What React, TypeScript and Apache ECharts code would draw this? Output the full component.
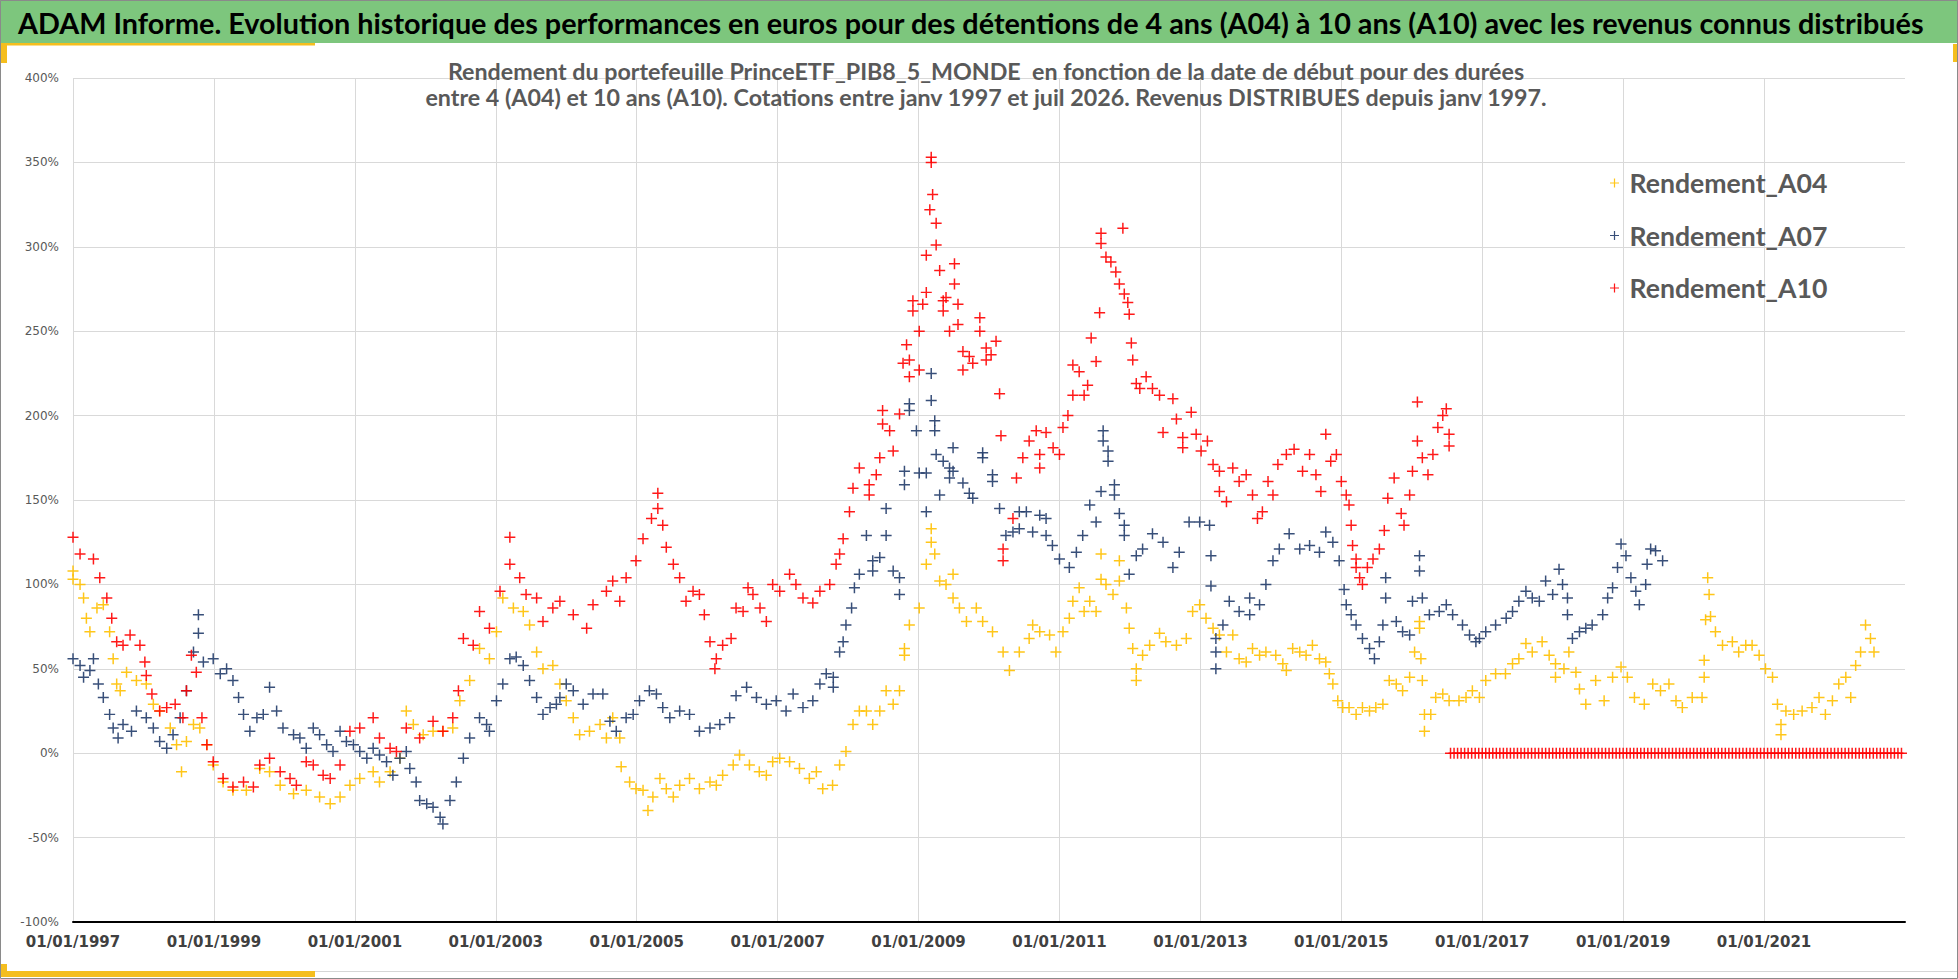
import React, { useEffect, useRef } from 'react';
import * as echarts from 'echarts';

// Texts
const HEADER =
  'ADAM Informe. Evolution historique des performances en euros pour des détentions de 4 ans (A04) à 10 ans (A10) avec les revenus connus distribués';
const TITLE_LINES = [
  'Rendement du portefeuille PrinceETF_PIB8_5_MONDE  en fonction de la date de début pour des durées',
  'entre 4 (A04) et 10 ans (A10). Cotations entre janv 1997 et juil 2026. Revenus DISTRIBUES depuis janv 1997.',
];
const SERIES_NAMES = ['Rendement_A04', 'Rendement_A07', 'Rendement_A10'];
const SERIES_COLORS = ['#FFC000', '#223C6A', '#FF0000'];

// x axis : start date in decimal years, labels 01/01/YYYY every 2 years
const X_START = 1997;
const X_END = 2023;
const X_STEP = 2;
const Y_MIN = -100;
const Y_MAX = 400;
const Y_STEP = 50;

// [start date (decimal year), rendement %]
const A04: [number, number][] = [
  [1997.0, 108], [1997.0, 103], [1997.1, 100], [1997.15, 92], [1997.19, 80], [1997.24, 72], [1997.34, 86],
  [1997.43, 88], [1997.52, 72], [1997.57, 56], [1997.62, 41], [1997.67, 37], [1997.76, 48], [1997.9, 43],
  [1998.04, 41], [1998.14, 29], [1998.23, 25], [1998.38, 15], [1998.47, 5], [1998.54, -11], [1998.61, 7],
  [1998.71, 17], [1998.8, 15], [1998.9, 5], [1998.99, -7], [1999.13, -17], [1999.27, -22], [1999.46, -22],
  [1999.65, -9], [1999.79, -11], [1999.94, -19], [2000.13, -24], [2000.31, -22], [2000.5, -26], [2000.65, -30],
  [2000.79, -26], [2000.93, -19], [2001.07, -15], [2001.26, -11], [2001.35, -17], [2001.5, -11], [2001.64, -3],
  [2001.73, 25], [2001.83, 17], [2001.97, 11], [2002.11, 13], [2002.25, 13], [2002.39, 15], [2002.49, 31],
  [2002.63, 43], [2002.77, 62], [2002.91, 56], [2003.01, 72], [2003.1, 92], [2003.25, 86], [2003.39, 84],
  [2003.48, 76], [2003.58, 60], [2003.67, 50], [2003.81, 52], [2003.91, 41], [2004.0, 31], [2004.1, 21],
  [2004.19, 11], [2004.33, 13], [2004.48, 17], [2004.57, 9], [2004.66, 21], [2004.76, 9], [2004.78, -8],
  [2004.9, -17], [2004.99, -21], [2005.09, -22], [2005.16, -34], [2005.23, -26], [2005.33, -15], [2005.42, -21],
  [2005.52, -26], [2005.61, -19], [2005.75, -15], [2005.89, -21], [2006.04, -17], [2006.13, -19], [2006.22, -13],
  [2006.37, -7], [2006.46, -1], [2006.6, -7], [2006.74, -11], [2006.84, -13], [2006.93, -5], [2007.03, -3],
  [2007.17, -5], [2007.31, -9], [2007.45, -15], [2007.55, -11], [2007.64, -21], [2007.78, -19], [2007.88, -7],
  [2007.97, 1], [2008.07, 17], [2008.16, 25], [2008.26, 25], [2008.35, 17], [2008.45, 25], [2008.54, 37],
  [2008.64, 29], [2008.73, 37], [2008.8, 58], [2008.8, 62], [2008.87, 76], [2009.01, 86], [2009.11, 112],
  [2009.18, 133], [2009.18, 125], [2009.23, 118], [2009.3, 102], [2009.39, 100], [2009.49, 106], [2009.49, 92],
  [2009.58, 86], [2009.68, 78], [2009.82, 86], [2009.91, 78], [2010.05, 72], [2010.2, 60], [2010.29, 49],
  [2010.43, 60], [2010.57, 68], [2010.62, 76], [2010.72, 72], [2010.86, 70], [2010.95, 60], [2011.05, 72],
  [2011.14, 80], [2011.19, 90], [2011.28, 98], [2011.35, 84], [2011.43, 90], [2011.52, 84], [2011.59, 103],
  [2011.59, 118], [2011.66, 100], [2011.76, 94], [2011.85, 102], [2011.85, 114], [2011.95, 86], [2011.99, 74],
  [2012.04, 62], [2012.09, 50], [2012.09, 43], [2012.18, 58], [2012.28, 64], [2012.42, 71], [2012.51, 66],
  [2012.66, 64], [2012.8, 68], [2012.89, 84], [2012.99, 88], [2013.08, 80], [2013.18, 74], [2013.27, 70],
  [2013.37, 60], [2013.46, 70], [2013.55, 56], [2013.65, 54], [2013.74, 62], [2013.84, 58], [2013.93, 60],
  [2014.07, 58], [2014.17, 53], [2014.22, 49], [2014.31, 62], [2014.41, 60], [2014.5, 58], [2014.59, 64],
  [2014.69, 56], [2014.78, 54], [2014.83, 47], [2014.88, 41], [2014.95, 31], [2015.02, 27], [2015.11, 27],
  [2015.21, 23], [2015.3, 27], [2015.4, 25], [2015.49, 27], [2015.59, 29], [2015.68, 43], [2015.78, 41],
  [2015.87, 37], [2015.97, 45], [2016.04, 60], [2016.11, 78], [2016.11, 74], [2016.13, 56], [2016.15, 43],
  [2016.18, 23], [2016.18, 13], [2016.27, 23], [2016.34, 33], [2016.44, 35], [2016.53, 31], [2016.67, 31],
  [2016.77, 33], [2016.86, 37], [2016.96, 33], [2017.05, 43], [2017.19, 47], [2017.33, 47], [2017.43, 53],
  [2017.52, 56], [2017.62, 65], [2017.71, 60], [2017.85, 66], [2017.95, 58], [2018.04, 53], [2018.04, 45],
  [2018.16, 50], [2018.23, 60], [2018.33, 48], [2018.38, 38], [2018.47, 29], [2018.61, 43], [2018.73, 31],
  [2018.85, 45], [2018.97, 51], [2019.06, 45], [2019.16, 33], [2019.3, 29], [2019.42, 41], [2019.53, 37],
  [2019.65, 41], [2019.75, 31], [2019.84, 27], [2019.98, 33], [2020.12, 33], [2020.15, 45], [2020.15, 55],
  [2020.17, 79], [2020.2, 104], [2020.22, 94], [2020.24, 81], [2020.31, 72], [2020.41, 64], [2020.55, 66],
  [2020.64, 60], [2020.74, 64], [2020.83, 64], [2020.93, 58], [2021.02, 50], [2021.12, 45], [2021.19, 29],
  [2021.24, 17], [2021.24, 11], [2021.31, 25], [2021.42, 23], [2021.54, 25], [2021.68, 27], [2021.78, 33],
  [2021.87, 23], [2021.97, 31], [2022.06, 41], [2022.16, 45], [2022.23, 33], [2022.3, 52], [2022.37, 60],
  [2022.44, 76], [2022.51, 68], [2022.56, 60],
];

const A07: [number, number][] = [
  [1997.0, 56], [1997.1, 52], [1997.15, 45], [1997.24, 49], [1997.29, 56], [1997.36, 41], [1997.43, 33],
  [1997.52, 23], [1997.57, 15], [1997.64, 9], [1997.71, 17], [1997.83, 13], [1997.9, 25], [1998.04, 21],
  [1998.14, 15], [1998.23, 7], [1998.33, 3], [1998.42, 11], [1998.52, 21], [1998.61, 37], [1998.71, 60],
  [1998.78, 82], [1998.78, 71], [1998.85, 54], [1998.99, 56], [1999.09, 47], [1999.18, 50], [1999.27, 43],
  [1999.35, 33], [1999.42, 23], [1999.51, 13], [1999.61, 21], [1999.7, 23], [1999.79, 39], [1999.89, 25],
  [1999.98, 15], [2000.13, 11], [2000.22, 9], [2000.31, 3], [2000.41, 15], [2000.5, 11], [2000.6, 5],
  [2000.69, 1], [2000.79, 13], [2000.88, 7], [2000.98, 5], [2001.07, 1], [2001.17, -3], [2001.26, 3],
  [2001.35, -1], [2001.45, -5], [2001.54, -13], [2001.64, -3], [2001.73, 1], [2001.78, -9], [2001.87, -17],
  [2001.92, -28], [2002.02, -30], [2002.11, -32], [2002.21, -38], [2002.25, -42], [2002.35, -28], [2002.44, -17],
  [2002.54, -3], [2002.63, 9], [2002.77, 21], [2002.87, 17], [2002.91, 13], [2003.01, 31], [2003.1, 41],
  [2003.2, 56], [2003.29, 57], [2003.39, 52], [2003.48, 43], [2003.58, 33], [2003.67, 23], [2003.77, 27],
  [2003.86, 29], [2003.91, 33], [2004.0, 41], [2004.1, 37], [2004.24, 29], [2004.38, 35], [2004.52, 35],
  [2004.62, 19], [2004.71, 13], [2004.85, 21], [2004.95, 23], [2005.04, 31], [2005.18, 37], [2005.28, 35],
  [2005.37, 27], [2005.47, 21], [2005.61, 25], [2005.75, 23], [2005.89, 13], [2006.04, 15], [2006.18, 17],
  [2006.32, 21], [2006.41, 34], [2006.56, 39], [2006.7, 33], [2006.84, 29], [2006.98, 31], [2007.12, 25],
  [2007.22, 35], [2007.36, 27], [2007.5, 31], [2007.6, 41], [2007.69, 47], [2007.79, 39], [2007.79, 45],
  [2007.88, 60], [2007.93, 66], [2007.97, 76], [2008.05, 86], [2008.09, 98], [2008.16, 106], [2008.26, 129],
  [2008.35, 114], [2008.35, 108], [2008.45, 116], [2008.54, 129], [2008.54, 145], [2008.64, 108], [2008.73, 104],
  [2008.73, 94], [2008.8, 159], [2008.8, 167], [2008.87, 207], [2008.87, 203], [2008.97, 191], [2009.01, 166],
  [2009.11, 166], [2009.11, 143], [2009.18, 225], [2009.18, 209], [2009.23, 197], [2009.23, 191], [2009.25, 177],
  [2009.3, 153], [2009.35, 173], [2009.44, 169], [2009.44, 163], [2009.49, 181], [2009.49, 167], [2009.63, 160],
  [2009.72, 154], [2009.77, 151], [2009.91, 178], [2009.91, 175], [2010.05, 165], [2010.05, 161], [2010.15, 145],
  [2010.24, 129], [2010.34, 131], [2010.43, 133], [2010.43, 143], [2010.53, 143], [2010.62, 131], [2010.72, 141],
  [2010.81, 139], [2010.81, 129], [2010.9, 123], [2011.0, 115], [2011.14, 110], [2011.24, 119], [2011.33, 129],
  [2011.43, 147], [2011.52, 137], [2011.59, 155], [2011.62, 185], [2011.62, 191], [2011.69, 179], [2011.69, 173],
  [2011.78, 159], [2011.78, 153], [2011.85, 142], [2011.92, 135], [2011.92, 129], [2011.99, 106], [2012.09, 117],
  [2012.18, 121], [2012.32, 130], [2012.47, 125], [2012.61, 110], [2012.7, 119], [2012.84, 137], [2012.99, 137],
  [2013.13, 135], [2013.15, 117], [2013.15, 99], [2013.22, 68], [2013.22, 50], [2013.22, 60], [2013.32, 76],
  [2013.41, 90], [2013.55, 84], [2013.7, 92], [2013.7, 82], [2013.84, 88], [2013.93, 100], [2014.03, 114],
  [2014.12, 121], [2014.26, 130], [2014.41, 121], [2014.55, 123], [2014.69, 119], [2014.78, 131], [2014.88, 125],
  [2014.97, 114], [2015.04, 97], [2015.07, 88], [2015.14, 82], [2015.21, 76], [2015.3, 68], [2015.4, 62],
  [2015.47, 56], [2015.54, 66], [2015.59, 76], [2015.63, 92], [2015.63, 104], [2015.78, 78], [2015.87, 72],
  [2015.97, 70], [2016.01, 90], [2016.11, 117], [2016.11, 108], [2016.15, 92], [2016.25, 82], [2016.39, 84],
  [2016.49, 88], [2016.58, 82], [2016.72, 76], [2016.82, 70], [2016.91, 66], [2016.96, 68], [2017.05, 72],
  [2017.19, 76], [2017.34, 80], [2017.43, 84], [2017.52, 90], [2017.62, 96], [2017.71, 92], [2017.81, 90],
  [2017.9, 102], [2018.0, 94], [2018.09, 109], [2018.14, 100], [2018.21, 92], [2018.21, 82], [2018.28, 68],
  [2018.38, 72], [2018.47, 74], [2018.56, 76], [2018.71, 82], [2018.78, 92], [2018.85, 98], [2018.92, 110],
  [2018.97, 124], [2019.04, 117], [2019.11, 104], [2019.18, 96], [2019.23, 88], [2019.32, 100], [2019.34, 112],
  [2019.39, 121], [2019.46, 120], [2019.56, 114],
];

const A10: [number, number][] = [
  [1997.0, 128], [1997.1, 118], [1997.29, 115], [1997.38, 104], [1997.48, 92], [1997.55, 80], [1997.62, 66],
  [1997.71, 64], [1997.81, 70], [1997.95, 64], [1998.02, 54], [1998.04, 46], [1998.12, 35], [1998.23, 25],
  [1998.33, 27], [1998.45, 29], [1998.56, 21], [1998.61, 37], [1998.68, 58], [1998.75, 48], [1998.83, 21],
  [1998.9, 5], [1998.99, -5], [1999.13, -15], [1999.27, -20], [1999.42, -17], [1999.56, -20], [1999.65, -7],
  [1999.79, -3], [1999.94, -11], [2000.08, -15], [2000.17, -19], [2000.31, -5], [2000.41, -7], [2000.55, -13],
  [2000.65, -15], [2000.79, -7], [2000.93, 13], [2001.07, 15], [2001.26, 21], [2001.35, 9], [2001.5, 3],
  [2001.59, 1], [2001.73, 15], [2001.92, 9], [2002.11, 19], [2002.25, 13], [2002.39, 21], [2002.47, 37],
  [2002.54, 68], [2002.68, 64], [2002.77, 84], [2002.91, 74], [2003.06, 96], [2003.2, 128], [2003.2, 112],
  [2003.34, 104], [2003.43, 94], [2003.58, 92], [2003.67, 78], [2003.81, 86], [2003.91, 90], [2004.1, 82],
  [2004.29, 74], [2004.38, 88], [2004.57, 96], [2004.66, 102], [2004.76, 90], [2004.85, 104], [2004.99, 114],
  [2005.09, 127], [2005.21, 139], [2005.3, 154], [2005.3, 145], [2005.37, 135], [2005.42, 122], [2005.52, 112],
  [2005.61, 104], [2005.7, 90], [2005.8, 96], [2005.89, 94], [2005.96, 82], [2006.04, 66], [2006.11, 50],
  [2006.13, 56], [2006.22, 64], [2006.34, 68], [2006.41, 86], [2006.51, 84], [2006.58, 98], [2006.65, 94],
  [2006.75, 86], [2006.84, 78], [2006.93, 100], [2007.03, 96], [2007.17, 106], [2007.26, 100], [2007.36, 92],
  [2007.5, 89], [2007.6, 96], [2007.74, 100], [2007.83, 112], [2007.88, 118], [2007.93, 127], [2008.02, 143],
  [2008.07, 157], [2008.16, 169], [2008.3, 159], [2008.3, 153], [2008.4, 165], [2008.45, 175], [2008.49, 195],
  [2008.49, 203], [2008.59, 191], [2008.64, 179], [2008.73, 201], [2008.78, 231], [2008.83, 242], [2008.87, 233],
  [2008.87, 223], [2008.92, 262], [2008.92, 268], [2009.01, 250], [2009.01, 227], [2009.06, 266], [2009.11, 273],
  [2009.11, 295], [2009.16, 322], [2009.18, 353], [2009.18, 350], [2009.2, 331], [2009.25, 314], [2009.25, 301],
  [2009.3, 286], [2009.35, 268], [2009.35, 262], [2009.39, 270], [2009.44, 250], [2009.51, 290], [2009.51, 278],
  [2009.56, 266], [2009.56, 254], [2009.63, 238], [2009.63, 227], [2009.72, 235], [2009.77, 231], [2009.87, 258],
  [2009.87, 250], [2009.96, 240], [2009.96, 233], [2010.03, 236], [2010.1, 244], [2010.15, 213], [2010.17, 188],
  [2010.2, 121], [2010.2, 114], [2010.34, 139], [2010.39, 163], [2010.48, 175], [2010.57, 185], [2010.67, 191],
  [2010.72, 169], [2010.72, 177], [2010.81, 190], [2010.91, 181], [2011.0, 177], [2011.05, 193], [2011.12, 200],
  [2011.19, 212], [2011.19, 230], [2011.28, 226], [2011.35, 212], [2011.4, 218], [2011.45, 246], [2011.52, 232],
  [2011.57, 261], [2011.59, 302], [2011.59, 308], [2011.66, 294], [2011.73, 291], [2011.8, 285], [2011.85, 278],
  [2011.9, 311], [2011.92, 272], [2011.97, 267], [2011.99, 260], [2012.02, 243], [2012.04, 233], [2012.09, 219],
  [2012.14, 216], [2012.23, 223], [2012.32, 216], [2012.42, 212], [2012.47, 190], [2012.61, 210], [2012.66, 198],
  [2012.75, 187], [2012.75, 181], [2012.87, 202], [2012.94, 189], [2013.01, 179], [2013.1, 185], [2013.18, 171],
  [2013.27, 167], [2013.27, 155], [2013.37, 149], [2013.46, 169], [2013.55, 161], [2013.65, 165], [2013.74, 153],
  [2013.81, 139], [2013.88, 143], [2013.96, 161], [2014.03, 153], [2014.1, 171], [2014.22, 177], [2014.33, 180],
  [2014.45, 167], [2014.55, 177], [2014.64, 165], [2014.71, 155], [2014.78, 189], [2014.85, 173], [2014.93, 177],
  [2015.0, 161], [2015.07, 153], [2015.11, 147], [2015.14, 135], [2015.16, 123], [2015.21, 115], [2015.21, 110],
  [2015.26, 104], [2015.3, 100], [2015.37, 110], [2015.45, 115], [2015.54, 121], [2015.61, 132], [2015.66, 151],
  [2015.75, 163], [2015.85, 142], [2015.89, 135], [2015.97, 153], [2016.01, 167], [2016.08, 185], [2016.08, 208],
  [2016.15, 175], [2016.23, 165], [2016.3, 177], [2016.37, 193], [2016.44, 200], [2016.49, 204], [2016.53, 189],
  [2016.53, 182],
];

// A10 start dates with no 10-year horizon yet : rendement 0 %
const A10_ZERO_DATES = [
  2016.55, 2016.6, 2016.65, 2016.7, 2016.75, 2016.8, 2016.85, 2016.9, 2016.95, 2017.0, 2017.05, 2017.1,
  2017.15, 2017.2, 2017.25, 2017.3, 2017.35, 2017.4, 2017.45, 2017.5, 2017.55, 2017.6, 2017.65, 2017.7,
  2017.75, 2017.8, 2017.85, 2017.9, 2017.95, 2018.0, 2018.05, 2018.1, 2018.15, 2018.2, 2018.25, 2018.3,
  2018.35, 2018.4, 2018.45, 2018.5, 2018.55, 2018.6, 2018.65, 2018.7, 2018.75, 2018.8, 2018.85, 2018.9,
  2018.95, 2019.0, 2019.05, 2019.1, 2019.15, 2019.2, 2019.25, 2019.3, 2019.35, 2019.4, 2019.45, 2019.5,
  2019.55, 2019.6, 2019.65, 2019.7, 2019.75, 2019.8, 2019.85, 2019.9, 2019.95, 2020.0, 2020.05, 2020.1,
  2020.15, 2020.2, 2020.25, 2020.3, 2020.35, 2020.4, 2020.45, 2020.5, 2020.55, 2020.6, 2020.65, 2020.7,
  2020.75, 2020.8, 2020.85, 2020.9, 2020.95, 2021.0, 2021.05, 2021.1, 2021.15, 2021.2, 2021.25, 2021.3,
  2021.35, 2021.4, 2021.45, 2021.5, 2021.55, 2021.6, 2021.65, 2021.7, 2021.75, 2021.8, 2021.85, 2021.9,
  2021.95, 2022.0, 2022.05, 2022.1, 2022.15, 2022.2, 2022.25, 2022.3, 2022.35, 2022.4, 2022.45, 2022.5,
  2022.55, 2022.6, 2022.65, 2022.7, 2022.75, 2022.8, 2022.85, 2022.9, 2022.95,
];

const PLUS = 'path://M0,4.32H4.32V0H5.68V4.32H10V5.68H5.68V10H4.32V5.68H0Z';

// font size so that a bold text takes a given width
const fitSize = (text: string, family: string, width: number) => {
  const ctx = document.createElement('canvas').getContext('2d');
  if (!ctx) return 16;
  ctx.font = `bold 100px ${family}`;
  return (100 * width) / ctx.measureText(text).width;
};

const App: React.FC = () => {
  const chartRef = useRef<HTMLDivElement>(null);

  useEffect(() => {
    if (!chartRef.current) return;
    const chart = echarts.init(chartRef.current, undefined, { renderer: 'svg' });

    const headerSize = fitSize(HEADER, 'Lato', 1907);
    const titleSize = fitSize(TITLE_LINES[1], 'Lato', 1123);
    const legendSize = fitSize(SERIES_NAMES[0], 'Lato', 198);

    const toX = (d: [number, number][]) => d.map(([x, y]) => [x - X_START, y]);
    const seriesData = [
      toX(A04),
      toX(A07),
      toX(A10).concat(A10_ZERO_DATES.map((x) => [x - X_START, 0])),
    ];

    const option: any = {
      animation: false,
      backgroundColor: '#ffffff',
      grid: {
        left: 73,
        right: 53,
        top: 78,
        bottom: 57,
        containLabel: false,
        outerBoundsMode: 'none',
      },
      xAxis: {
        type: 'value',
        min: 0,
        max: X_END - X_START,
        interval: X_STEP,
        axisLine: { onZero: false, lineStyle: { color: '#000000', width: 2 } },
        axisTick: { show: false },
        axisLabel: {
          formatter: (v: number) => `01/01/${X_START + v}`,
          showMaxLabel: false,
          margin: 12,
          color: '#404040',
          fontFamily: 'DejaVu Sans',
          fontWeight: 'bold',
          fontSize: 15,
        },
        splitLine: {
          show: true,
          showMaxLine: false,
          lineStyle: { color: '#d9d9d9', width: 1 },
        },
      },
      yAxis: {
        type: 'value',
        min: Y_MIN,
        max: Y_MAX,
        interval: Y_STEP,
        axisLine: { show: false },
        axisTick: { show: false },
        axisLabel: {
          formatter: '{value}%',
          margin: 14,
          color: '#595959',
          fontFamily: 'DejaVu Sans',
          fontSize: 12,
        },
        splitLine: { lineStyle: { color: '#d9d9d9', width: 1 } },
      },
      legend: {
        orient: 'vertical',
        left: 1610,
        top: 168,
        padding: 0,
        itemGap: 22.5,
        itemWidth: 20,
        itemHeight: 9,
        data: SERIES_NAMES.map((name) => ({ name, icon: PLUS })),
        textStyle: {
          color: '#595959',
          fontFamily: 'Lato',
          fontWeight: 'bold',
          fontSize: legendSize,
          lineHeight: 30,
        },
      },
      graphic: [
        {
          type: 'rect',
          z: 1,
          shape: { x: 0, y: 0, width: 1958, height: 43 },
          style: { fill: '#7DC67D' },
        },
        {
          type: 'text',
          z: 10,
          x: 18,
          y: 23,
          style: {
            text: HEADER,
            fill: '#000000',
            fontFamily: 'Lato',
            fontWeight: 'bold',
            fontSize: headerSize,
            align: 'left',
            verticalAlign: 'middle',
            textAlign: 'left',
            textVerticalAlign: 'middle',
          },
        },
        {
          type: 'rect',
          z: 2,
          shape: { x: 0, y: 43, width: 315, height: 2.5 },
          style: { fill: '#F5BE1E' },
        },
        {
          type: 'rect',
          z: 2,
          shape: { x: 0, y: 43, width: 7, height: 20 },
          style: { fill: '#F5BE1E' },
        },
        {
          type: 'rect',
          z: 2,
          shape: { x: 1953, y: 44, width: 5, height: 18 },
          style: { fill: '#F5BE1E' },
        },
        {
          type: 'line',
          z: 2,
          shape: { x1: 0, y1: 971.5, x2: 1958, y2: 971.5 },
          style: { stroke: '#d6d6d6', lineWidth: 1 },
        },
        {
          type: 'rect',
          z: 3,
          shape: { x: 0, y: 971, width: 315, height: 6 },
          style: { fill: '#F5BE1E' },
        },
        {
          type: 'rect',
          z: 3,
          shape: { x: 0, y: 964, width: 7, height: 13 },
          style: { fill: '#F5BE1E' },
        },
        ...TITLE_LINES.map((line, i) => ({
          type: 'text',
          z: 10,
          x: 986,
          y: 71 + i * 26,
          style: {
            text: line,
            fill: '#595959',
            fontFamily: 'Lato',
            fontWeight: 'bold',
            fontSize: titleSize,
            align: 'center',
            verticalAlign: 'middle',
            textAlign: 'center',
            textVerticalAlign: 'middle',
          },
        })),
        {
          type: 'rect',
          z: 20,
          shape: { x: 0.5, y: 0.5, width: 1957, height: 978 },
          style: { fill: 'none', stroke: '#8a8a8a', lineWidth: 1 },
        },
      ],
      series: SERIES_NAMES.map((name, i) => ({
        name,
        type: 'scatter',
        symbol: PLUS,
        symbolSize: 11,
        itemStyle: { color: SERIES_COLORS[i], opacity: 0.9 },
        emphasis: { disabled: true },
        data: seriesData[i],
        z: 2 + i,
      })),
    };

    chart.setOption(option);

    return () => {
      chart.dispose();
    };
  }, []);

  return (
    <div
      ref={chartRef}
      style={{ position: 'absolute', left: 0, top: 0, width: '1958px', height: '979px' }}
    />
  );
};

export default App;
